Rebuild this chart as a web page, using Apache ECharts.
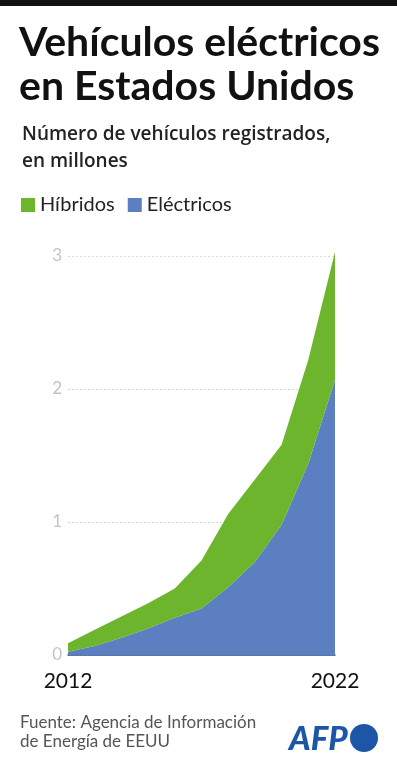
<!DOCTYPE html>
<html>
<head>
<meta charset="utf-8">
<script src="https://cdn.jsdelivr.net/npm/echarts@6/dist/echarts.min.js"></script>
<style>
html,body{margin:0;padding:0;background:#fff;}
#c{width:397px;height:768px;}
</style>
</head>
<body>
<div id="c"></div>
<script>
const years = ['2012','2013','2014','2015','2016','2017','2018','2019','2020','2021','2022'];
const electricos = [0.025, 0.068, 0.13, 0.20, 0.28, 0.35, 0.51, 0.70, 0.98, 1.44, 2.07];
const hibridos = [0.063, 0.122, 0.16, 0.19, 0.22, 0.36, 0.55, 0.62, 0.60, 0.78, 0.96];
const yTicks = [0, 1, 2, 3];

const FONT = 'Lato, "Noto Sans", sans-serif';
const chart = echarts.init(document.getElementById('c'), null, {renderer: 'canvas'});
chart.setOption({
  animation: false,
  backgroundColor: '#fff',
  grid: {left: 68, right: 62, top: 256, bottom: 113, containLabel: false},
  legend: {
    left: 16, top: 190,
    icon: 'rect', itemWidth: 14, itemHeight: 14, itemGap: 13,
    data: ['Híbridos', 'Eléctricos'],
    textStyle: {fontFamily: FONT, fontSize: 20, color: '#222', padding: [0, 0, 0, 0]}
  },
  xAxis: {
    type: 'category', data: years, boundaryGap: false,
    axisLine: {show: true, lineStyle: {color: '#2f4f8a', width: 1.5}},
    axisTick: {show: false},
    axisLabel: {
      interval: (i) => i === 0 || i === years.length - 1,
      fontFamily: FONT, fontSize: 21, color: '#111', margin: 16
    },
    splitLine: {show: false}
  },
  yAxis: {
    type: 'value', min: yTicks[0], max: yTicks[yTicks.length - 1], interval: 1,
    axisLine: {show: false}, axisTick: {show: false},
    axisLabel: {fontFamily: FONT, fontSize: 17, color: '#c4c4c4', margin: 6},
    splitLine: {show: true, lineStyle: {color: '#d6d6d6', type: [2, 2], width: 1}}
  },
  series: [
    {
      name: 'Eléctricos', type: 'line', stack: 'total', data: electricos,
      symbol: 'none', clip: false, z: 2,
      lineStyle: {width: 0}, itemStyle: {color: '#5b7fc0'},
      areaStyle: {color: '#5b7fc0', opacity: 1}
    },
    {
      name: 'Híbridos', type: 'line', stack: 'total', data: hibridos,
      symbol: 'none', clip: false, z: 2,
      lineStyle: {width: 0}, itemStyle: {color: '#6cb52d'},
      areaStyle: {color: '#6cb52d', opacity: 1}
    }
  ],
  graphic: [
    {type: 'rect', shape: {x: 0, y: 0, width: 397, height: 6}, style: {fill: '#111'}},
    {type: 'text', x: 19, y: 43, style: {text: 'Vehículos eléctricos', font: 'bold 41px ' + FONT, fill: '#111', verticalAlign: 'middle'}},
    {type: 'text', x: 19, y: 87, style: {text: 'en Estados Unidos', font: 'bold 41px ' + FONT, fill: '#111', verticalAlign: 'middle'}},
    {type: 'text', x: 22, y: 135, style: {text: 'Número de vehículos registrados,', font: '600 19px "Open Sans", ' + FONT, fill: '#222', verticalAlign: 'middle'}},
    {type: 'text', x: 22, y: 162, style: {text: 'en millones', font: '600 19px "Open Sans", ' + FONT, fill: '#222', verticalAlign: 'middle'}},
    {type: 'text', x: 20, y: 723, style: {text: 'Fuente: Agencia de Información', font: '17px ' + FONT, fill: '#555', verticalAlign: 'middle'}},
    {type: 'text', x: 20, y: 742, style: {text: 'de Energía de EEUU', font: '17px ' + FONT, fill: '#555', verticalAlign: 'middle'}},
    {type: 'text', x: 289, y: 739, style: {text: 'AFP', font: 'italic 900 33px ' + FONT, fill: '#1d56a6', verticalAlign: 'middle'}},
    {type: 'circle', shape: {cx: 364, cy: 738, r: 14}, style: {fill: '#1d56a6'}}
  ]
});
</script>
</body>
</html>
